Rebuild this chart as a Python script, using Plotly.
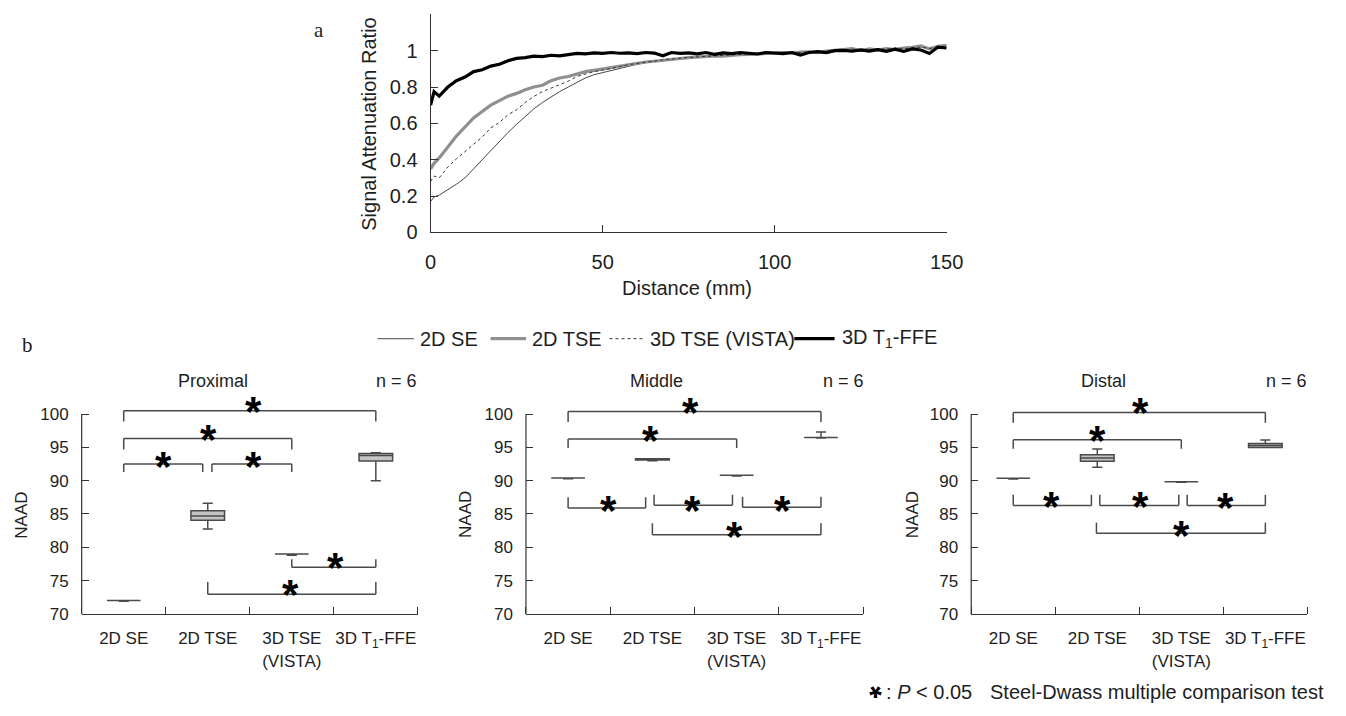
import plotly.graph_objects as go

# ---------------- data: panel a (signal attenuation ratio vs distance) ----------------
distance = [0, 1, 2.5, 5, 7.5, 10, 12.5, 15, 17.5, 20, 22.5, 25, 27.5, 30, 32.5, 35, 37.5, 40,
            42.5, 45, 47.5, 50, 52.5, 55, 57.5, 60, 62.5, 65, 67.5, 70, 72.5, 75, 77.5, 80,
            82.5, 85, 87.5, 90, 92.5, 95, 97.5, 100, 102.5, 105, 107.5, 110, 112.5, 115,
            117.5, 120, 122.5, 125, 127.5, 130, 132.5, 135, 137.5, 140, 142.5, 145, 147.5, 150]

sar_2d_se = [0.17, 0.195, 0.205, 0.235, 0.265, 0.30, 0.35, 0.40, 0.455, 0.50, 0.55, 0.595, 0.64,
             0.68, 0.715, 0.745, 0.775, 0.80, 0.825, 0.85, 0.868, 0.88, 0.893, 0.905, 0.916,
             0.925, 0.934, 0.94, 0.947, 0.952, 0.957, 0.961, 0.965, 0.968, 0.97, 0.973, 0.975,
             0.978, 0.98, 0.982, 0.985, 0.987, 0.99, 0.987, 0.99, 0.995, 0.993, 0.998, 1.0,
             1.003, 1.0, 1.008, 1.005, 1.01, 1.008, 1.013, 1.016, 1.018, 1.02, 1.012, 1.022, 1.025]

sar_2d_tse = [0.35, 0.38, 0.41, 0.47, 0.53, 0.58, 0.63, 0.665, 0.70, 0.725, 0.75, 0.765, 0.785,
              0.80, 0.81, 0.835, 0.85, 0.858, 0.87, 0.885, 0.892, 0.90, 0.908, 0.918, 0.922,
              0.93, 0.938, 0.942, 0.948, 0.955, 0.957, 0.962, 0.965, 0.966, 0.972, 0.97, 0.976,
              0.978, 0.98, 0.983, 0.984, 0.988, 0.99, 0.987, 0.993, 0.994, 0.99, 0.998, 1.0,
              1.006, 1.012, 1.0, 1.01, 1.004, 1.012, 1.006, 1.015, 1.018, 1.027, 1.01, 1.024, 1.03]

sar_3d_tse_vista = [0.28, 0.31, 0.30, 0.36, 0.405, 0.445, 0.49, 0.525, 0.575, 0.605, 0.648, 0.675,
                    0.715, 0.748, 0.775, 0.795, 0.812, 0.832, 0.858, 0.872, 0.885, 0.893, 0.905,
                    0.913, 0.923, 0.93, 0.938, 0.945, 0.95, 0.954, 0.96, 0.963, 0.966, 0.97, 0.972,
                    0.974, 0.977, 0.98, 0.98, 0.984, 0.986, 0.99, 0.988, 0.992, 0.99, 0.995, 0.997,
                    0.995, 1.002, 1.0, 1.008, 1.005, 1.0, 1.01, 1.008, 1.014, 1.01, 1.016, 1.02,
                    1.012, 1.022, 1.025]

sar_3d_t1_ffe = [0.70, 0.775, 0.75, 0.80, 0.835, 0.855, 0.885, 0.895, 0.915, 0.925, 0.945, 0.958,
                 0.962, 0.97, 0.968, 0.975, 0.972, 0.98, 0.985, 0.983, 0.988, 0.985, 0.99, 0.986,
                 0.988, 0.984, 0.99, 0.987, 0.972, 0.99, 0.985, 0.988, 0.983, 0.99, 0.98, 0.988,
                 0.984, 0.99, 0.987, 0.982, 0.99, 0.988, 0.984, 0.99, 0.976, 0.99, 0.995, 0.99,
                 1.0, 1.002, 0.997, 1.004, 0.998, 1.006, 0.997, 1.008, 0.996, 1.01, 1.004, 0.985,
                 1.02, 1.015]

# ---------------- data: panel b (NAAD box plots) ----------------
categories = ["2D SE", "2D TSE", "3D TSE<br>(VISTA)", "3D T<sub>1</sub>-FFE"]
region_names = ["Proximal", "Middle", "Distal"]

prox_lower = [71.9, 82.75, 78.8, 90.0]
prox_q1 = [72.0, 84.05, 79.0, 92.95]
prox_median = [72.0, 84.7, 79.0, 93.8]
prox_q3 = [72.0, 85.5, 79.0, 94.1]
prox_upper = [72.0, 86.6, 79.0, 94.2]

mid_lower = [90.3, 93.0, 90.7, 96.4]
mid_q1 = [90.4, 93.1, 90.8, 96.5]
mid_median = [90.4, 93.2, 90.8, 96.5]
mid_q3 = [90.4, 93.3, 90.8, 96.5]
mid_upper = [90.4, 93.3, 90.8, 97.3]

dist_lower = [90.25, 92.0, 89.75, 95.0]
dist_q1 = [90.35, 92.9, 89.85, 95.0]
dist_median = [90.35, 93.4, 89.85, 95.3]
dist_q3 = [90.35, 93.9, 89.85, 95.6]
dist_upper = [90.35, 94.75, 89.85, 96.1]

# significance brackets: (from, to, level, tip level, star x, star y)
prox_brackets = [(0, 3, 100.5, 98.9, 1.55, 101.9), (0, 2, 96.35, 94.7, 1.01, 97.7),
                 (0, 0.94, 92.5, 91.3, 0.47, 93.65), (1.05, 2.0, 92.5, 91.3, 1.54, 93.65),
                 (2.0, 3.0, 77.0, 78.2, 2.52, 78.5), (1.0, 3.0, 72.96, 74.8, 1.99, 74.4)]
mid_brackets = [(0, 3, 100.4, 98.8, 1.45, 101.8), (0, 2, 96.25, 94.9, 0.98, 97.6),
                (0, 0.92, 85.9, 87.5, 0.48, 87.1), (1.02, 1.95, 86.3, 87.9, 1.48, 87.1),
                (2.07, 3.0, 86.0, 87.6, 2.54, 87.1), (1.0, 3.0, 81.9, 83.6, 1.97, 83.15)]
dist_brackets = [(0, 3, 100.25, 98.7, 1.52, 101.76), (0, 2, 96.13, 94.8, 1.0, 97.55),
                 (0, 0.93, 86.27, 87.9, 0.45, 87.65), (1.03, 1.97, 86.27, 87.9, 1.51, 87.65),
                 (2.07, 3.0, 86.27, 87.9, 2.52, 87.5), (0.99, 3.0, 82.1, 83.7, 2.0, 83.2)]

# ---------------- layout helpers ----------------
W, H = 1346, 716
FONT = "Liberation Sans, Arial, sans-serif"
TXT = "#1e1e1e"


def px(x):
    return x / W


def py(y):
    return 1 - y / H


def note(x, y, text, size=20, xa="center", ya="middle", **kw):
    d = dict(xref="paper", yref="paper", x=px(x), y=py(y), text=text, showarrow=False,
             xanchor=xa, yanchor=ya, font=dict(family=kw.pop("family", FONT), size=size,
                                                color=kw.pop("color", TXT)))
    d.update(kw)
    return d


fig = go.Figure()

# ---- panel a lines ----
line_specs = [
    ("2D SE", sar_2d_se, dict(color="#474747", width=1)),
    ("2D TSE", sar_2d_tse, dict(color="#8f8f8f", width=3.2)),
    ("3D TSE (VISTA)", sar_3d_tse_vista, dict(color="#333333", width=1, dash="dot")),
    ("3D T1-FFE", sar_3d_t1_ffe, dict(color="#000000", width=3.2)),
]
for name, ys, ln in line_specs:
    fig.add_trace(go.Scatter(x=distance, y=ys, mode="lines", name=name, line=ln,
                             xaxis="x", yaxis="y", showlegend=False, hoverinfo="skip"))

# ---- panel b boxes ----
box_sets = [
    (prox_lower, prox_q1, prox_median, prox_q3, prox_upper, "x2", "y2"),
    (mid_lower, mid_q1, mid_median, mid_q3, mid_upper, "x3", "y3"),
    (dist_lower, dist_q1, dist_median, dist_q3, dist_upper, "x4", "y4"),
]
cat_pos = list(range(len(categories)))
for lo, q1, med, q3, up, xa, ya in box_sets:
    fig.add_trace(go.Box(x=cat_pos, lowerfence=lo, q1=q1, median=med, q3=q3, upperfence=up,
                         width=0.4, whiskerwidth=0.3, fillcolor="#c4c4c4",
                         line=dict(color="#4a4a4a", width=1.5), boxpoints=False,
                         xaxis=xa, yaxis=ya, showlegend=False, hoverinfo="skip"))

shapes = []
annotations = []

# ---- axes ----
no_title = dict(text="", standoff=0, font=dict(size=1))
axis_common = dict(showgrid=False, zeroline=False, linecolor="#333333", linewidth=1.2,
                   tickcolor="#333333", ticks="inside", ticklen=7, title=no_title,
                   tickfont=dict(family=FONT, size=20, color=TXT))

layout = dict(
    width=W, height=H, autosize=False,
    margin=dict(l=0, r=0, t=0, b=0),
    paper_bgcolor="white", plot_bgcolor="white",
    showlegend=False,
    xaxis=dict(axis_common, domain=[px(432), px(957)], range=[0, 150], anchor="y",
               tickvals=[0, 50, 100, 150], showline=True, ticklabelstandoff=12),
    yaxis=dict(axis_common, domain=[py(236), py(14.6)], range=[0, 1.2], anchor="x",
               tickvals=[0, 0.2, 0.4, 0.6, 0.8, 1.0],
               ticktext=["0", "0.2", "0.4", "0.6", "0.8", "1"], showline=True,
               ticklabelstandoff=8,
               minor=dict(tickvals=[1.2], ticks="inside", ticklen=7, tickcolor="#333333",
                          showgrid=False)),
)

panel_x = [(77, 419), (529, 872), (982, 1324)]
for k, (xl, xr) in enumerate(panel_x):
    xn = "xaxis%d" % (k + 2)
    yn = "yaxis%d" % (k + 2)
    layout[xn] = dict(axis_common, domain=[px(xl), px(xr)], range=[-0.5, 3.5],
                      anchor="y%d" % (k + 2), tickvals=cat_pos, ticktext=categories,
                      ticks="", showline=True, ticklabelstandoff=9,
                      tickfont=dict(family=FONT, size=17, color=TXT),
                      minor=dict(tickvals=[-0.5, 0.5, 1.5, 2.5, 3.5], ticks="inside",
                                 ticklen=7, tickcolor="#333333", showgrid=False))
    layout[yn] = dict(axis_common, domain=[py(623.5), py(407)], range=[70, 102],
                      anchor="x%d" % (k + 2), tickvals=[70, 75, 80, 85, 90, 95, 100],
                      showline=False, ticklabelstandoff=12,
                      tickfont=dict(family=FONT, size=17, color=TXT))
    # y axis line only from 70 to 100
    shapes.append(dict(type="line", xref="x%d domain" % (k + 2), yref="y%d" % (k + 2),
                       x0=0, x1=0, y0=70, y1=100, line=dict(color="#333333", width=1.2)))

# ---- brackets + stars ----
for k, brs in enumerate([prox_brackets, mid_brackets, dist_brackets]):
    xr_ = "x%d" % (k + 2)
    yr_ = "y%d" % (k + 2)
    for a, b, lvl, tip, sx, sy in brs:
        for (x0, y0, x1, y1) in [(a, tip, a, lvl), (a, lvl, b, lvl), (b, lvl, b, tip)]:
            shapes.append(dict(type="line", xref=xr_, yref=yr_, x0=x0, y0=y0, x1=x1, y1=y1,
                               line=dict(color="#4a4a4a", width=1.5)))
        annotations.append(dict(xref=xr_, yref=yr_, x=sx, y=sy, text="<b>*</b>",
                                showarrow=False, yshift=-10, xanchor="center", yanchor="middle",
                                font=dict(family=FONT, size=42, color="#000000")))

# ---- panel b titles, n, NAAD ----
for title, (tx, nx, lx) in zip(region_names, [(211, 397, 16), (662, 852, 468), (1117, 1303, 923)]):
    annotations.append(note(tx, 387, title, size=18))
    annotations.append(note(nx, 387, "n = 6", size=18))
    annotations.append(note(lx, 523, "NAAD", size=17, textangle=-90))

# ---- panel a axis titles ----
annotations.append(note(693, 292, "Distance (mm)", size=20))
annotations.append(note(369, 126, "Signal Attenuation Ratio", size=20, textangle=-90))

# ---- panel labels ----
annotations.append(note(318, 30, "a", size=21, family="Liberation Serif, serif"))
annotations.append(note(22, 350, "b", size=21, family="Liberation Serif, serif"))

# ---- legend (drawn manually) ----
legend_items = [
    ((378, 415), dict(color="#474747", width=1), "2D SE", 419),
    ((493, 529), dict(color="#8f8f8f", width=3.2), "2D TSE", 533),
    ((614, 648), dict(color="#333333", width=1, dash="dot"), "3D TSE (VISTA)", 653),
    ((802, 843), dict(color="#000000", width=3.2), "3D T<sub>1</sub>-FFE", 848),
]
for (lx0, lx1), ln, label, tx in legend_items:
    shapes.append(dict(type="line", xref="paper", yref="paper", x0=px(lx0), x1=px(lx1),
                       y0=py(344), y1=py(344), line=ln))
    annotations.append(note(tx, 344, label, size=20, xa="left"))

# ---- footnote (star turned so that its glyph sits low in its box, keeping it inside the page) ----
annotations.append(note(884, 697, "<b>*</b>", size=32, color="#000000", textangle=180))
annotations.append(note(893, 703, ": <i>P</i> < 0.05", size=20, xa="left"))
annotations.append(note(1343, 703, "Steel-Dwass multiple comparison test", size=20, xa="right"))

layout["shapes"] = shapes
layout["annotations"] = annotations
fig.update_layout(**layout)

fig.write_html("out.html", config={"displayModeBar": False},
               post_script="document.body.style.margin='0';document.body.style.overflow='hidden';")
